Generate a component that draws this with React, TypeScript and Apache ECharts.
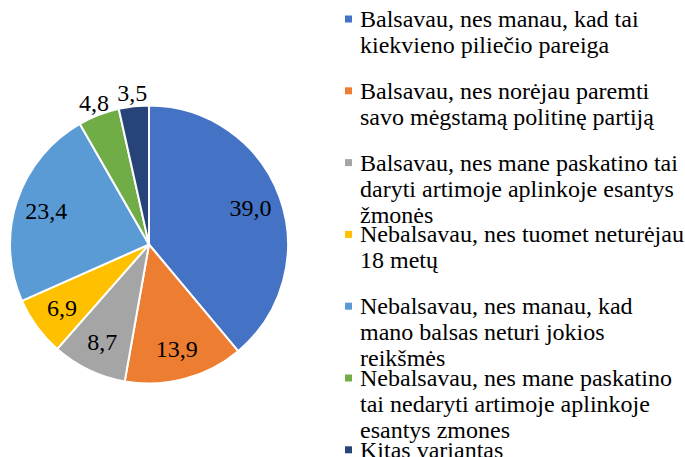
import React, { useEffect, useRef } from "react";
import * as echarts from "echarts";

const categories: string[] = [
  "Balsavau, nes manau, kad tai\nkiekvieno piliečio pareiga",
  "Balsavau, nes norėjau paremti\nsavo mėgstamą politinę partiją",
  "Balsavau, nes mane paskatino tai\ndaryti artimoje aplinkoje esantys\nžmonės",
  "Nebalsavau, nes tuomet neturėjau\n18 metų",
  "Nebalsavau, nes manau, kad\nmano balsas neturi jokios\nreikšmės",
  "Nebalsavau, nes mane paskatino\ntai nedaryti artimoje aplinkoje\nesantys zmones",
  "Kitas variantas",
];
const values: number[] = [39.0, 13.9, 8.7, 6.9, 23.4, 4.8, 3.5];
const colors: string[] = ["#4472C4", "#ED7D31", "#A5A5A5", "#FFC000", "#5B9BD5", "#70AD47", "#264478"];

const FONT = "Times New Roman";
const LH = 26;
const LEG_TOP0 = 6;
const LEG_STEP = 71.8;

const fmt = (v: number) => v.toFixed(1).replace(".", ",");

function iconPath(n: number): string {
  const H = n * LH;
  const a = LH / 2 - 3.5;
  return `path://M0,0L0,0M10,${H}L10,${H}M0,${a}L7,${a}L7,${a + 7}L0,${a + 7}Z`;
}

export default function App() {
  const ref = useRef<HTMLDivElement>(null);
  useEffect(() => {
    if (!ref.current) return;
    const chart = echarts.init(ref.current, null, { renderer: "svg" });
    const center = [149, 244.5];
    const labelStyle = {
      fontFamily: FONT,
      fontSize: 24,
      color: "#000",
      formatter: (p: any) => fmt(p.value),
    };
    const legends = categories.map((name, i) => {
      const n = name.split("\n").length;
      return {
        orient: "vertical",
        left: 345,
        top: LEG_TOP0 + LEG_STEP * i,
        padding: 0,
        itemGap: 0,
        itemWidth: 10,
        itemHeight: n * LH,
        itemStyle: { borderWidth: 0 },
        data: [{ name, icon: iconPath(n) }],
        textStyle: { fontFamily: FONT, fontSize: 24, lineHeight: LH, color: "#000" },
      };
    });
    chart.setOption({
      animation: false,
      color: colors,
      textStyle: { fontFamily: FONT },
      legend: legends,
      series: [
        {
          name: "pie",
          type: "pie",
          center,
          radius: [0, 139],
          startAngle: 90,
          clockwise: true,
          avoidLabelOverlap: false,
          itemStyle: { borderColor: "#fff", borderWidth: 2 },
          label: { show: false },
          labelLine: { show: false },
          data: categories.map((name, i) => ({ name, value: values[i], itemStyle: { color: colors[i] } })),
        },
        {
          name: "labelsInside",
          type: "pie",
          center,
          radius: [71, 139],
          startAngle: 90,
          silent: true,
          avoidLabelOverlap: false,
          itemStyle: { color: "transparent", borderWidth: 0 },
          label: { show: true, position: "inside", ...labelStyle },
          labelLine: { show: false },
          emphasis: { disabled: true },
          data: categories.map((name, i) => ({ name, value: values[i], label: { show: values[i] >= 5 } })),
        },
        {
          name: "labelsOutside",
          type: "pie",
          center,
          radius: [139, 159],
          startAngle: 90,
          silent: true,
          avoidLabelOverlap: false,
          itemStyle: { color: "transparent", borderWidth: 0 },
          label: { show: true, position: "inside", ...labelStyle },
          labelLine: { show: false },
          emphasis: { disabled: true },
          data: categories.map((name, i) => ({ name, value: values[i], label: { show: values[i] < 5 } })),
        },
      ],
    });
    return () => chart.dispose();
  }, []);
  return <div ref={ref} style={{ position: "absolute", left: 0, top: 0, width: 685, height: 457 }} />;
}
